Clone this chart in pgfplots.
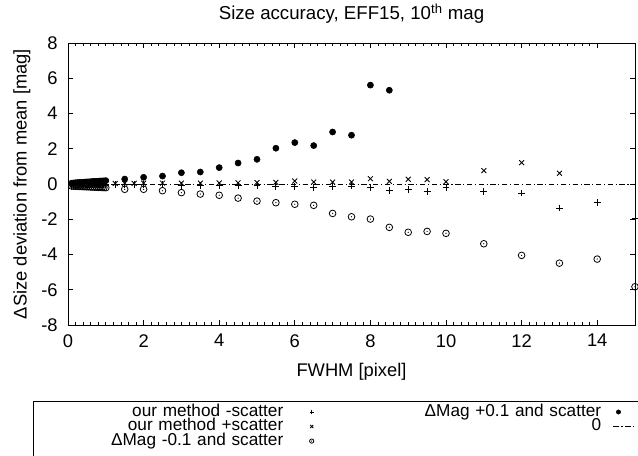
\documentclass[border=0pt]{standalone}
\usepackage{pgfplots}
\pgfplotsset{compat=1.18}
\usepackage{fontspec}
\setmainfont{Liberation Sans}
\pgfdeclareplotmark{odot}{%
  \pgfpathcircle{\pgfpointorigin}{\pgfplotmarksize}\pgfusepathqstroke
  \pgfpathcircle{\pgfpointorigin}{0.5pt}\pgfusepathqfill}
\pgfplotsset{
  mylegend/.style={legend image code/.code={%
    \path (-21pt,0pt) (33pt,0pt);
    \draw plot coordinates {(0pt,0pt)};}},
  dotlegend/.style={legend image code/.code={%
    \path (-21pt,0pt) (33pt,0pt);
    \draw plot coordinates {(-8.25pt,0pt)};}},
  linelegend/.style={legend image code/.code={%
    \path (-21pt,0pt) (33pt,0pt);
    \draw (-12pt,0pt) -- (5pt,0pt);}}}
\begin{document}
\begin{tikzpicture}
\begin{axis}[
  at={(0,0)}, anchor=south west,
  scale only axis, width=425.25pt, height=211.5pt,
  xmin=0, xmax=15, ymin=-8, ymax=8,
  xtick={0,2,...,14}, ytick={-8,-6,...,8},
  minor x tick num=9,
  major tick length=3.75pt, minor tick length=2pt,
  tick style={black, line width=0.5pt},
  axis line style={line width=0.6pt},
  /pgf/number format/assume math mode=true,
  font=\fontsize{13.75}{16}\selectfont,
  ticklabel style={font=\fontsize{13.75}{16}\selectfont},
  xticklabel style={yshift=-3.5pt},
  yticklabel style={xshift=-4.3pt},
  every axis title shift=0pt,
  title={Size accuracy, EFF15, 10\textsuperscript{th} mag},
  title style={at={(0.5,1.0816)}, anchor=base, font=\fontsize{14}{16}\selectfont},
  xlabel={FWHM [pixel]},
  xlabel style={at={(0.5,-0.1809)}, anchor=base},
  ylabel={ΔSize deviation from mean [mag]},
  ylabel style={at={(-0.0729,0.5)}, anchor=base},
  legend columns=2,
  legend plot pos=right,
  legend cell align=right,
  legend image post style={mark size=1.6pt},
  legend style={at={(-0.0529,-0.2818)}, anchor=north west, draw=none, fill=none,
    inner xsep=0pt, inner ysep=0pt,
    nodes={text width=183.75pt, align=right, inner xsep=0pt, inner ysep=0pt,
      text height=8.6pt, text depth=2.3pt, font=\fontsize{12.9}{15}\selectfont}},
]
% our method -scatter
\addplot[only marks, mark=+, mark size=2.6pt, line width=0.65pt, black, mylegend] coordinates {
(0.1,-0.02)(0.15,-0.02)(0.2,-0.02)(0.25,-0.02)(0.3,-0.02)(0.35,-0.02)(0.4,-0.02)(0.45,-0.02)(0.5,-0.02)(0.55,-0.02)(0.6,-0.02)(0.65,-0.02)(0.7,-0.02)(0.75,-0.02)(0.8,-0.02)(0.85,-0.02)(0.9,-0.02)(0.95,-0.02)(1.0,-0.02)
(1.25,-0.03)(1.5,-0.04)(1.75,-0.04)(2.0,-0.05)(2.5,-0.05)(3.0,-0.06)(3.5,-0.06)(4.0,-0.08)(4.5,-0.08)(5.0,-0.10)(5.5,-0.12)(6.0,-0.15)(6.5,-0.19)(7.0,-0.15)(7.5,-0.11)(8.0,-0.19)(8.5,-0.38)(9.0,-0.30)(9.5,-0.43)(10.0,-0.21)(11,-0.45)(12,-0.51)(13,-1.36)(14,-1.04)(15,-1.97)};
\addlegendentry{our method -scatter}
% Delta Mag +0.1
\addplot[only marks, mark=*, mark size=2.3pt, black, dotlegend] coordinates {
(0.1,0.05)(0.15,0.06)(0.2,0.07)(0.25,0.08)(0.3,0.09)(0.35,0.09)(0.4,0.10)(0.45,0.11)(0.5,0.12)(0.55,0.12)(0.6,0.13)(0.65,0.14)(0.7,0.15)(0.75,0.15)(0.8,0.16)(0.85,0.17)(0.9,0.17)(0.95,0.18)(1.0,0.19)
(1.5,0.28)(2.0,0.38)(2.5,0.45)(3.0,0.64)(3.5,0.68)(4.0,0.93)(4.5,1.19)(5.0,1.40)(5.5,2.03)(6.0,2.35)(6.5,2.18)(7.0,2.95)(7.5,2.77)(8.0,5.61)(8.5,5.32)};
\addlegendentry{ΔMag +0.1 and scatter}
% our method +scatter
\addplot[only marks, mark=x, mark size=2.6pt, line width=0.65pt, black, mylegend] coordinates {
(0.1,0.02)(0.15,0.02)(0.2,0.02)(0.25,0.02)(0.3,0.02)(0.35,0.02)(0.4,0.02)(0.45,0.02)(0.5,0.02)(0.55,0.02)(0.6,0.02)(0.65,0.02)(0.7,0.02)(0.75,0.02)(0.8,0.02)(0.85,0.02)(0.9,0.02)(0.95,0.02)(1.0,0.02)
(1.25,0.03)(1.5,0.04)(1.75,0.04)(2.0,0.05)(2.5,0.05)(3.0,0.05)(3.5,0.05)(4.0,0.06)(4.5,0.07)(5.0,0.08)(5.5,0.09)(6.0,0.17)(6.5,0.11)(7.0,0.11)(7.5,0.11)(8.0,0.30)(8.5,0.15)(9.0,0.27)(9.5,0.25)(10.0,0.13)(11,0.76)(12,1.21)(13,0.61)};
\addlegendentry{our method +scatter}
% zero line
\addplot[black, line width=0.5pt, dash pattern=on 4pt off 2pt on 0.8pt off 2pt, linelegend] coordinates {(0,0)(15,0)};
\addlegendentry{0}
% Delta Mag -0.1
\addplot[only marks, mark=odot, mark size=2.5pt, line width=0.6pt, black, mylegend] coordinates {
(0.1,-0.12)(0.15,-0.12)(0.2,-0.13)(0.25,-0.13)(0.3,-0.14)(0.35,-0.14)(0.4,-0.15)(0.45,-0.15)(0.5,-0.16)(0.55,-0.16)(0.6,-0.17)(0.65,-0.17)(0.7,-0.18)(0.75,-0.18)(0.8,-0.19)(0.85,-0.19)(0.9,-0.20)(0.95,-0.20)(1.0,-0.21)
(1.5,-0.30)(2.0,-0.30)(2.5,-0.38)(3.0,-0.49)(3.5,-0.57)(4.0,-0.64)(4.5,-0.80)(5.0,-0.97)(5.5,-1.06)(6.0,-1.15)(6.5,-1.21)(7.0,-1.67)(7.5,-1.86)(8.0,-1.99)(8.5,-2.46)(9.0,-2.74)(9.5,-2.69)(10.0,-2.80)(11,-3.39)(12,-4.05)(13,-4.49)(14,-4.26)(15,-5.83)};
\addlegendentry{ΔMag -0.1 and scatter}
\end{axis}
\draw[line width=0.6pt] (-26.25pt,-57pt) rectangle (440pt,-120pt);
\pgfresetboundingbox
\useasboundingbox (-51pt,-98.25pt) rectangle (427.5pt,243.75pt);
\end{tikzpicture}
\end{document}
